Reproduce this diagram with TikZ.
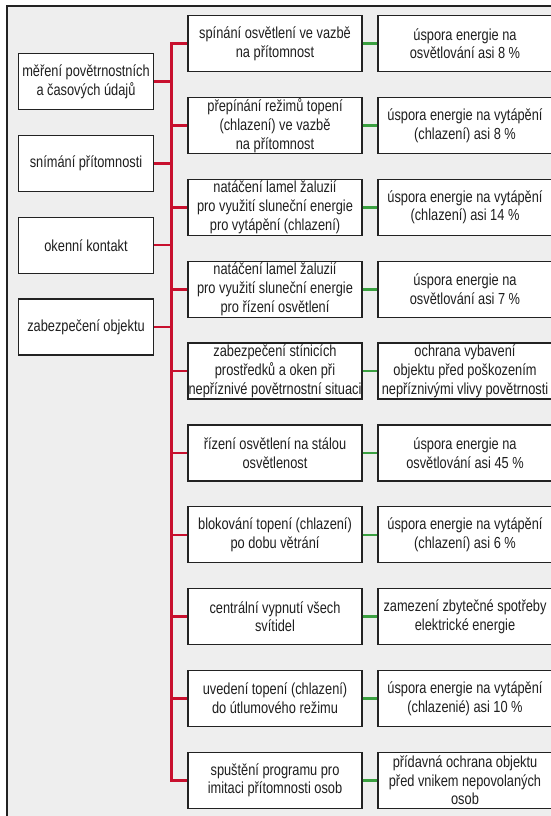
\documentclass[tikz,border=0pt]{standalone}
\usepackage{fontspec}
\setmainfont{Liberation Sans}[FakeStretch=0.80]
\definecolor{bgc}{HTML}{EEEEEE}
\definecolor{redc}{HTML}{C8102E}
\definecolor{greenc}{HTML}{3AA040}
\definecolor{edgec}{HTML}{222222}
\tikzset{
  box/.style={draw=edgec, line width=1.3pt, fill=white, minimum width=174pt, minimum height=56pt,
    inner sep=0pt, align=center, text=black!88, font=\fontsize{16}{18.7}\selectfont},
  lbox/.style={box, minimum width=135pt},
  redline/.style={draw=redc, line width=2.4pt},
  greenline/.style={draw=greenc, line width=2.4pt},
}
\begin{document}
\begin{tikzpicture}[x=1pt,y=-1pt]
\useasboundingbox (0,0) rectangle (551,816);
\fill[bgc] (7,6) rectangle (556,820);
\draw[edgec, line width=1.3pt] (7,820) -- (7,6) -- (556,6);

% left column
\node[lbox] (L1) at (86,81.5) {měření povětrnostních\\a časových údajů};
\node[lbox] (L2) at (86,163.4) {snímání přítomnosti};
\node[lbox] (L3) at (86,245.2) {okenní kontakt};
\node[lbox] (L4) at (86,327.0) {zabezpečení objektu};

% middle column
\node[box] (M1) at (275,43.7) {spínání osvětlení ve vazbě\\na přítomnost};
\node[box] (M2) at (275,125.6) {přepínání režimů topení\\(chlazení) ve vazbě\\na přítomnost};
\node[box] (M3) at (275,207.4) {natáčení lamel žaluzií\\pro využití sluneční energie\\pro vytápění (chlazení)};
\node[box] (M4) at (275,289.3) {natáčení lamel žaluzií\\pro využití sluneční energie\\pro řízení osvětlení};
\node[box] (M5) at (275,371.1) {zabezpečení stínicích\\prostředků a oken při\\nepříznivé povětrnostní situaci};
\node[box] (M6) at (275,453.0) {řízení osvětlení na stálou\\osvětlenost};
\node[box] (M7) at (275,534.8) {blokování topení (chlazení)\\po dobu větrání};
\node[box] (M8) at (275,616.6) {centrální vypnutí všech\\svítidel};
\node[box] (M9) at (275,698.5) {uvedení topení (chlazení)\\do útlumového režimu};
\node[box] (M10) at (275,780.3) {spuštění programu pro\\imitaci přítomnosti osob};

% right column
\node[box] (R1) at (465,43.7) {úspora energie na\\osvětlování asi 8 \%};
\node[box] (R2) at (465,125.6) {úspora energie na vytápění\\(chlazení) asi 8 \%};
\node[box] (R3) at (465,207.4) {úspora energie na vytápění\\(chlazení) asi 14 \%};
\node[box] (R4) at (465,289.3) {úspora energie na\\osvětlování asi 7 \%};
\node[box] (R5) at (465,371.1) {ochrana vybavení\\objektu před poškozením\\nepříznivými vlivy povětrnosti};
\node[box] (R6) at (465,453.0) {úspora energie na\\osvětlování asi 45 \%};
\node[box] (R7) at (465,534.8) {úspora energie na vytápění\\(chlazení) asi 6 \%};
\node[box] (R8) at (465,616.6) {zamezení zbytečné spotřeby\\elektrické energie};
\node[box] (R9) at (465,698.5) {úspora energie na vytápění\\(chlazenié) asi 10 \%};
\node[box] (R10) at (465,780.3) {přídavná ochrana objektu\\před vnikem nepovolaných\\osob};

% red bus
\coordinate (bt) at (171.3,43.7);
\coordinate (bb) at (171.3,780.3);
\draw[redline] (M1.west) -- (bt) -- (bb) -- (M10.west);
\foreach \m in {M2,M3,M4,M5,M6,M7,M8,M9} {
  \draw[redline] (\m.west) -- (\m.west -| bt);
}
\foreach \l in {L1,L2,L3,L4} {
  \draw[redline] (\l.east) -- (\l.east -| bt);
}
% green links
\foreach \i in {1,...,10} {
  \draw[greenline] (M\i.east) -- (R\i.west);
}
\end{tikzpicture}
\end{document}
